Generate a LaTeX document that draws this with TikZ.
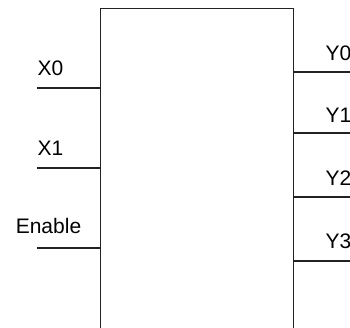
\documentclass[tikz,border=0pt]{standalone}
\usepackage{fontspec}
\setmainfont{Liberation Sans}
\usetikzlibrary{positioning}
\definecolor{cline}{HTML}{222222}
\tikzset{
  every picture/.style={line width=1.2pt},
  block/.style={draw=cline, minimum width=193pt, minimum height=340pt, inner sep=0pt, anchor=north west},
  pin/.style={draw=cline, line width=1.2pt},
  pinlabel/.style={font=\fontsize{21}{24}\selectfont, inner sep=0pt},
}
\begin{document}
\begin{tikzpicture}[x=1pt, y=-1pt]
  \useasboundingbox (0,0) rectangle (350,327);
  % the block (its bottom runs past the page)
  \node[block] (dec) at (100,8) {};
  % inputs
  \coordinate (x0) at (37,88);
  \coordinate (x1) at (37,168);
  \coordinate (en) at (37,248);
  \draw[pin] (x0) -- (x0 -| dec.west);
  \draw[pin] (x1) -- (x1 -| dec.west);
  \draw[pin] (en) -- (en -| dec.west);
  \node[pinlabel, anchor=base west] (lx0) at (37,75) {X0};
  \node[pinlabel, anchor=base west] (lx1) at (37,155) {X1};
  \node[pinlabel, anchor=base] (len) at (48.5,233) {Enable};
  % outputs
  \coordinate (y0) at (350,72);
  \coordinate (y1) at (350,133);
  \coordinate (y2) at (350,197);
  \coordinate (y3) at (350,261);
  \draw[pin] (y0 -| dec.east) -- (y0);
  \draw[pin] (y1 -| dec.east) -- (y1);
  \draw[pin] (y2 -| dec.east) -- (y2);
  \draw[pin] (y3 -| dec.east) -- (y3);
  \node[pinlabel, anchor=base west] (ly0) at (325,60) {Y0};
  \node[pinlabel, anchor=base west] (ly1) at (325,122) {Y1};
  \node[pinlabel, anchor=base west] (ly2) at (325,185) {Y2};
  \node[pinlabel, anchor=base west] (ly3) at (325,248) {Y3};
\end{tikzpicture}
\end{document}
